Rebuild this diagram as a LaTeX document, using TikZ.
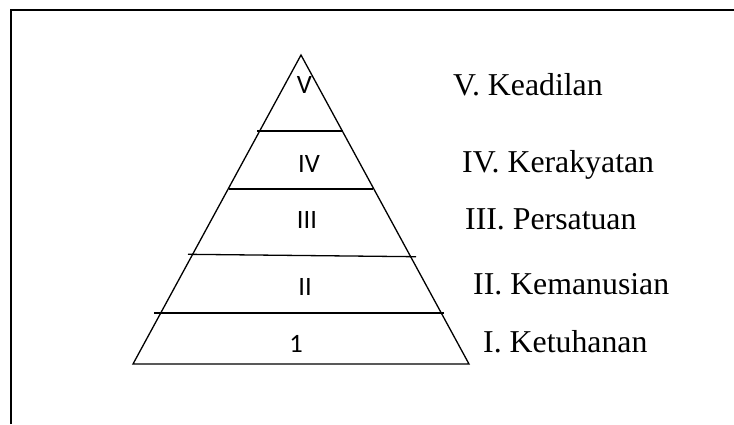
\documentclass[tikz,border=0pt]{standalone}
\usepackage{fontspec}
\setmainfont{Liberation Serif}
\newfontfamily\calib{Carlito}
\begin{document}
\begin{tikzpicture}[x=1pt,y=-1pt,
  frame/.style={line width=2.3pt},
  pyr/.style={line width=1.3pt, line join=miter},
  band/.style={line width=1.3pt},
  lvl/.style={inner sep=0pt, anchor=center, font=\calib\fontsize{26.5}{30}\selectfont},
  lbl/.style={inner sep=0pt, anchor=base west, font=\fontsize{31.8}{36}\selectfont}]
\useasboundingbox (0,0) rectangle (734,424);
% frame
\draw[frame] (11,424) -- (11,10) -- (734,10);
% pyramid
\coordinate (apex) at (301,55);
\coordinate (bl) at (133,364);
\coordinate (br) at (469,364);
\draw[pyr] (apex) -- (br) -- (bl) -- cycle;
\draw[band] (257,131) -- (343,131);
\draw[band] (229,189) -- (373,189);
\draw[band] (188,254.3) -- (416,256.7);
\draw[band] (154,313) -- (444,313);
% level labels
\node[lvl] (l5) at (304.5,85) {V};
\node[lvl] (l4) at (309,163.5) {IV};
\node[lvl] (l3) at (307,220) {III};
\node[lvl] (l2) at (305,287) {II};
\node[lvl] (l1) at (296,344) {1};
% right labels
\node[lbl] (t5) at (453,95) {V. Keadilan};
\node[lbl] (t4) at (462,172) {IV. Kerakyatan};
\node[lbl] (t3) at (465,229) {III. Persatuan};
\node[lbl] (t2) at (473,294) {II. Kemanusian};
\node[lbl] (t1) at (483,352) {I. Ketuhanan};
\end{tikzpicture}
\end{document}
